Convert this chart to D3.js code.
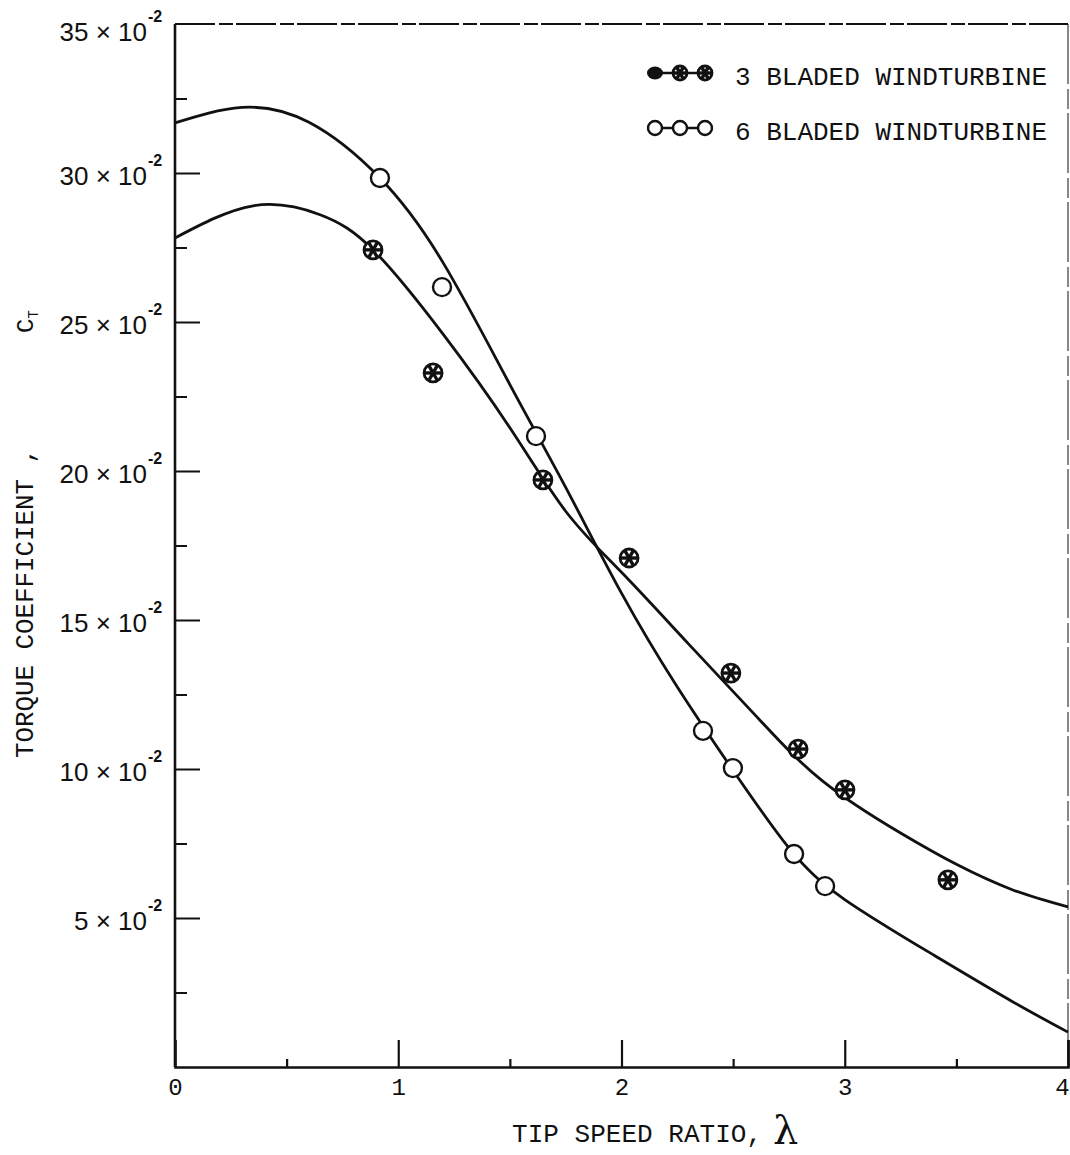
<!DOCTYPE html>
<html>
<head>
<meta charset="utf-8">
<script src="https://cdn.jsdelivr.net/npm/d3@7"></script>
<style>
  html, body { margin: 0; padding: 0; background: #fff; }
  svg { display: block; }
</style>
</head>
<body>
<svg id="chart" width="1070" height="1155"></svg>
<script>
// ---------- data ----------
const xMajorTicks = [0, 1, 2, 3, 4];
const xMinorTicks = [0.5, 1.5, 2.5, 3.5];
const yMajorTicks = [5, 10, 15, 20, 25, 30, 35];
const yMinorTicks = [2.5, 7.5, 12.5, 17.5, 22.5, 27.5, 32.5];
const yTickLabels = ["5", "10", "15", "20", "25", "30", "35"];
const legendLabels = ["3 BLADED WINDTURBINE", "6 BLADED WINDTURBINE"];

// measured points (C_T in units of 10^-2)
const pts3X = [0.887, 1.156, 1.648, 2.034, 2.490, 2.791, 3.001, 3.462];
const pts3Y = [27.42, 23.29, 19.70, 17.08, 13.22, 10.67, 9.30, 6.28];
const pts6X = [0.918, 1.196, 1.617, 2.365, 2.499, 2.773, 2.912];
const pts6Y = [29.83, 26.17, 21.17, 11.28, 10.03, 7.15, 6.07];

// fitted curves
const curve3X = [0.0, 0.35, 0.65, 0.89, 1.2, 1.5, 1.75, 2.0, 2.3, 2.6, 2.9, 3.25, 3.5, 3.75, 4.0];
const curve3Y = [27.82, 28.9, 28.6, 27.4, 24.6, 21.45, 18.65, 16.6, 14.2, 11.8, 9.6, 7.85, 6.8, 5.95, 5.37];
const curve6X = [0.0, 0.3, 0.6, 0.918, 1.2, 1.5, 1.75, 2.0, 2.25, 2.5, 2.75, 3.0, 3.4, 3.75, 4.0];
const curve6Y = [31.68, 32.2, 31.7, 29.83, 27.0, 22.9, 19.45, 15.9, 12.75, 9.95, 7.35, 5.62, 3.75, 2.2, 1.17];

// ---------- drawing ----------
const svg = d3.select("#chart");
const ink = "#111";
const mono = "'Liberation Mono', 'DejaVu Sans Mono', monospace";
const sans = "'Liberation Sans', Arial, sans-serif";

const x = d3.scaleLinear().domain([0, 4]).range([175, 1068]);
const y = d3.scaleLinear().domain([0, 35]).range([1067, 24]);

// frame: top dashed, right thin
svg.append("line")
  .attr("x1", x(0)).attr("x2", x(4)).attr("y1", y(35)).attr("y2", y(35))
  .attr("stroke", ink).attr("stroke-width", 1.8).attr("stroke-dasharray", "40,4,14,3");
svg.append("line")
  .attr("x1", x(4)).attr("x2", x(4)).attr("y1", y(35)).attr("y2", y(0))
  .attr("stroke", ink).attr("stroke-width", 1).attr("stroke-dasharray", "60,5,20,4");

// x axis
const gx = svg.append("g").attr("transform", `translate(0,${y(0)})`);
gx.call(d3.axisBottom(x).tickValues(xMajorTicks).tickSize(-27).tickPadding(11)
  .tickFormat(d3.format("d")));
gx.select(".domain").attr("stroke", ink).attr("stroke-width", 2.6);
gx.selectAll(".tick line").attr("stroke", ink).attr("stroke-width", 2.2);
gx.selectAll(".tick text").attr("font-family", mono).attr("font-size", 24).attr("fill", ink);
gx.selectAll(".tick").filter(d => d === 0).select("line").remove();
gx.selectAll(".tick").filter(d => d === 4).select("text").attr("dx", -6);

const gxm = svg.append("g").attr("transform", `translate(0,${y(0)})`);
gxm.call(d3.axisBottom(x).tickValues(xMinorTicks).tickSize(-8).tickFormat(""));
gxm.select(".domain").remove();
gxm.selectAll(".tick line").attr("stroke", ink).attr("stroke-width", 2.2);

// y axis
const gy = svg.append("g").attr("transform", `translate(${x(0)},0)`);
gy.call(d3.axisLeft(y).tickValues(yMajorTicks).tickSize(-25).tickFormat(""));
gy.select(".domain").attr("stroke", ink).attr("stroke-width", 2.6)
  .attr("d", `M0,${y(35)}V${y(0)}`);
gy.selectAll(".tick line").attr("stroke", ink).attr("stroke-width", 2);
gy.selectAll(".tick").filter(d => d === 35).select("line").remove();

const gym = svg.append("g").attr("transform", `translate(${x(0)},0)`);
gym.call(d3.axisLeft(y).tickValues(yMinorTicks).tickSize(-12).tickFormat(""));
gym.select(".domain").remove();
gym.selectAll(".tick line").attr("stroke", ink).attr("stroke-width", 2);

// y tick labels "NN × 10^-2"
const yl = svg.append("g").selectAll("g").data(yMajorTicks).join("g")
  .attr("transform", d => `translate(0,${y(d) + (d === 35 ? 17 : 12)})`);
const ylt = yl.append("text")
  .attr("x", 147).attr("text-anchor", "end")
  .attr("font-family", sans).attr("font-size", 26).attr("fill", ink)
  .attr("xml:space", "preserve");
ylt.append("tspan").text((d, i) => yTickLabels[i] + " ");
ylt.append("tspan").attr("font-size", 26).text("\u00D7 ");
ylt.append("tspan").text("10");
yl.append("text")
  .attr("x", 148).attr("y", -19)
  .attr("font-family", sans).attr("font-size", 16).attr("font-weight", "bold").attr("fill", ink)
  .text("-2");

// curves
const line = d3.line().x(d => x(d[0])).y(d => y(d[1])).curve(d3.curveNatural);
svg.append("path").datum(curve3X.map((v, i) => [v, curve3Y[i]]))
  .attr("d", line).attr("fill", "none").attr("stroke", ink).attr("stroke-width", 2.8);
svg.append("path").datum(curve6X.map((v, i) => [v, curve6Y[i]]))
  .attr("d", line).attr("fill", "none").attr("stroke", ink).attr("stroke-width", 2.8);

// markers
function crossed(g, cx, cy, r) {
  g.append("circle").attr("cx", cx).attr("cy", cy).attr("r", r)
    .attr("fill", "#fff").attr("stroke", ink).attr("stroke-width", 2.8);
  [0, 60, 120].forEach(a => {
    const t = a * Math.PI / 180;
    g.append("line")
      .attr("x1", cx - Math.cos(t) * r).attr("y1", cy - Math.sin(t) * r)
      .attr("x2", cx + Math.cos(t) * r).attr("y2", cy + Math.sin(t) * r)
      .attr("stroke", ink).attr("stroke-width", 3.4);
  });
}
function openC(g, cx, cy, r) {
  g.append("circle").attr("cx", cx).attr("cy", cy).attr("r", r)
    .attr("fill", "#fff").attr("stroke", ink).attr("stroke-width", 2.4);
}

const gm = svg.append("g");
pts3X.forEach((v, i) => crossed(gm, x(v), y(pts3Y[i]), 9));
pts6X.forEach((v, i) => openC(gm, x(v), y(pts6Y[i]), 9));

// legend
const lg = svg.append("g");
const legY = [73, 128];
const legMx = [655, 680, 705];
legY.forEach((ly, k) => {
  lg.append("line").attr("x1", 648).attr("x2", 712).attr("y1", ly).attr("y2", ly)
    .attr("stroke", ink).attr("stroke-width", 2.4);
  legMx.forEach((mx, j) => {
    if (k === 0) {
      if (j === 0) {
        lg.append("ellipse").attr("cx", mx).attr("cy", ly).attr("rx", 8).attr("ry", 6.5).attr("fill", ink);
      } else crossed(lg, mx, ly, 7);
    } else openC(lg, mx, ly, 7);
  });
  lg.append("text").attr("x", 735).attr("y", ly + 5)
    .attr("dominant-baseline", "middle")
    .attr("font-family", mono).attr("font-size", 26).attr("fill", ink)
    .attr("textLength", 312).attr("lengthAdjust", "spacingAndGlyphs")
    .text(legendLabels[k]);
});

// axis titles
svg.append("text").attr("x", 512).attr("y", 1142)
  .attr("font-family", mono).attr("font-size", 26).attr("fill", ink)
  .attr("textLength", 250).attr("lengthAdjust", "spacingAndGlyphs")
  .text("TIP SPEED RATIO,");
svg.append("text").attr("x", 773).attr("y", 1144)
  .attr("font-family", "'DejaVu Serif', serif").attr("font-size", 40).attr("fill", ink)
  .text("\u03BB");

svg.append("text")
  .attr("transform", "translate(33,758) rotate(-90)")
  .attr("font-family", mono).attr("font-size", 26).attr("fill", ink)
  .attr("textLength", 310).attr("lengthAdjust", "spacingAndGlyphs")
  .text("TORQUE COEFFICIENT ,");
const ct = svg.append("text")
  .attr("transform", "translate(33,333) rotate(-90)")
  .attr("font-family", mono).attr("font-size", 24).attr("fill", ink);
ct.append("tspan").text("C");
ct.append("tspan").attr("font-size", 14).attr("dy", 5).text("T");
</script>
</body>
</html>
